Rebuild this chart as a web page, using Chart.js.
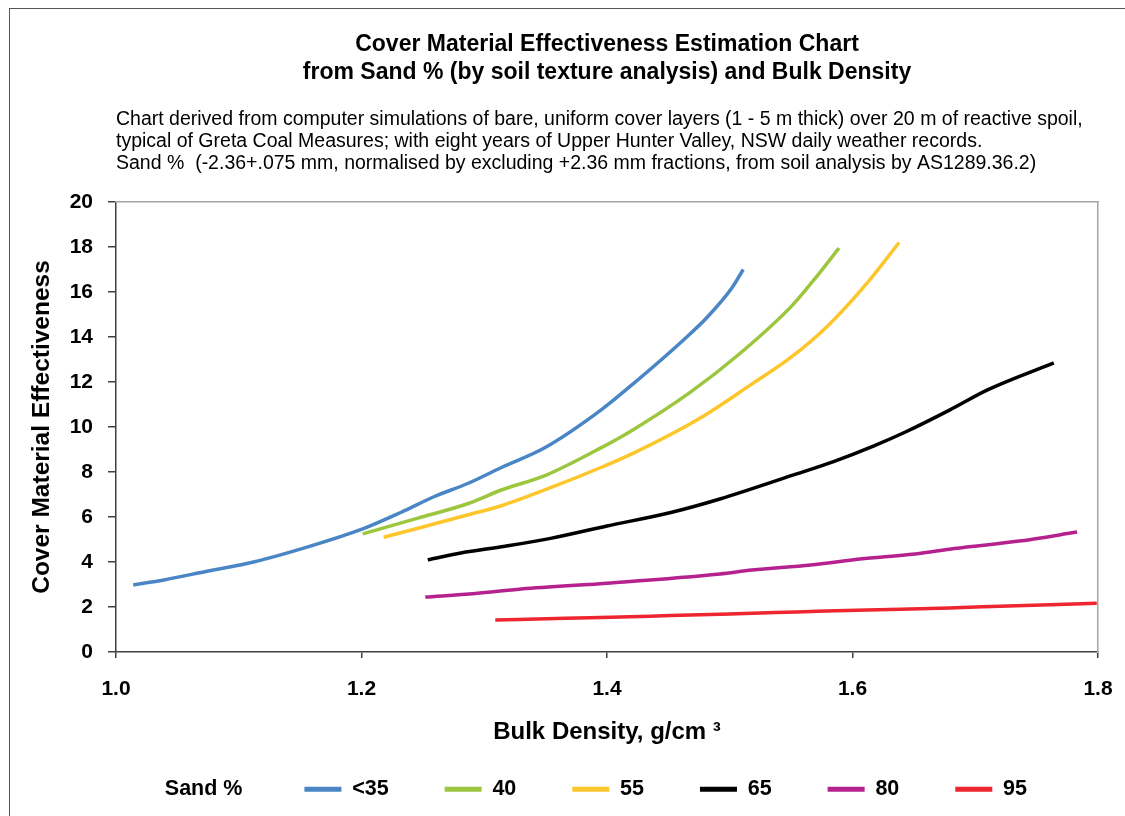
<!DOCTYPE html>
<html>
<head>
<meta charset="utf-8">
<script src="https://cdn.jsdelivr.net/npm/chart.js@4.4.1/dist/chart.umd.min.js"></script>
<style>
  body { margin: 0; background: #fff; }
  #wrap { position: relative; width: 1125px; height: 816px; }
  #frame { position: absolute; left: 9px; top: 8px; right: 0; bottom: 0;
           border-left: 1.5px solid #555; border-top: 1.5px solid #555; pointer-events: none; }
</style>
</head>
<body>
<div id="wrap">
  <canvas id="chart" width="1125" height="816"></canvas>
  <div id="frame"></div>
</div>
<script>
'use strict';

var sandLabels = ['<35', '40', '55', '65', '80', '95'];
var sandColors = ['#4a86c6', '#9dc63f', '#fdc62a', '#000000', '#b5228d', '#ec2530'];

// bulk density (g/cm3) and effectiveness
var bd35 = [1.014, 1.039, 1.075, 1.112, 1.161, 1.201, 1.232, 1.259, 1.287, 1.314, 1.350, 1.395, 1.422, 1.463, 1.482, 1.502, 1.511];
var ce35 = [2.98, 3.2, 3.6, 4.0, 4.75, 5.47, 6.2, 6.9, 7.5, 8.2, 9.1, 10.75, 11.95, 13.9, 14.9, 16.2, 17.0];

var bd40 = [1.201, 1.246, 1.287, 1.314, 1.350, 1.395, 1.421, 1.468, 1.509, 1.550, 1.568, 1.589];
var ce40 = [5.25, 5.95, 6.6, 7.2, 7.85, 9.07, 9.87, 11.55, 13.3, 15.35, 16.5, 17.95];

var bd55 = [1.218, 1.246, 1.287, 1.314, 1.354, 1.395, 1.422, 1.476, 1.517, 1.550, 1.580, 1.612, 1.638];
var ce55 = [5.1, 5.5, 6.1, 6.5, 7.3, 8.2, 8.85, 10.4, 11.87, 13.1, 14.5, 16.4, 18.2];

var bd65 = [1.254, 1.281, 1.317, 1.354, 1.400, 1.452, 1.492, 1.552, 1.584, 1.617, 1.644, 1.679, 1.710, 1.764];
var ce65 = [4.1, 4.4, 4.7, 5.05, 5.6, 6.2, 6.8, 7.87, 8.45, 9.15, 9.8, 10.75, 11.65, 12.85];

var bd80 = [1.252, 1.293, 1.330, 1.403, 1.492, 1.518, 1.566, 1.606, 1.651, 1.683, 1.736, 1.783];
var ce80 = [2.44, 2.6, 2.8, 3.07, 3.47, 3.64, 3.87, 4.13, 4.36, 4.6, 4.93, 5.33];

var bd95 = [1.309, 1.366, 1.411, 1.452, 1.492, 1.537, 1.578, 1.639, 1.679, 1.720, 1.761, 1.799];
var ce95 = [1.42, 1.5, 1.55, 1.62, 1.68, 1.75, 1.82, 1.9, 1.96, 2.03, 2.1, 2.17];

var xTickLabels = ['1.0', '1.2', '1.4', '1.6', '1.8'];
var yTickLabels = ['0', '2', '4', '6', '8', '10', '12', '14', '16', '18', '20'];

var titleLines = ['Cover Material Effectiveness Estimation Chart',
  'from Sand % (by soil texture analysis) and Bulk Density'];
var noteLines = [
  'Chart derived from computer simulations of bare, uniform cover layers (1 - 5 m thick) over 20 m of reactive spoil,',
  'typical of Greta Coal Measures; with eight years of Upper Hunter Valley, NSW daily weather records.',
  'Sand %  (-2.36+.075 mm, normalised by excluding +2.36 mm fractions, from soil analysis by AS1289.36.2)'
];

function toPoints(xs, ys) {
  var pts = [];
  for (var i = 0; i < xs.length; i++) {
    pts.push({ x: xs[i], y: ys[i] });
  }
  return pts;
}

var seriesX = [bd35, bd40, bd55, bd65, bd80, bd95];
var seriesY = [ce35, ce40, ce55, ce65, ce80, ce95];

// first entry only puts "Sand %" in front of the legend (trailing space widens the gap)
var datasets = [{ label: 'Sand % ', data: [], borderColor: 'rgba(0,0,0,0)', backgroundColor: 'rgba(0,0,0,0)' }];
for (var s = 0; s < sandLabels.length; s++) {
  datasets.push({
    label: sandLabels[s],
    data: toPoints(seriesX[s], seriesY[s]),
    borderColor: sandColors[s],
    backgroundColor: sandColors[s],
    borderWidth: 3.5,
    pointRadius: 0,
    cubicInterpolationMode: 'monotone'
  });
}

Chart.defaults.font.family = '"Liberation Sans", Arial, sans-serif';
Chart.defaults.color = '#000';

var axisColor = '#404040';

new Chart(document.getElementById('chart'), {
  type: 'line',
  data: { datasets: datasets },
  options: {
    responsive: false,
    animation: false,
    layout: { padding: { top: 10, left: 30, right: 11, bottom: 6 } },
    plugins: {
      title: {
        display: true,
        text: titleLines,
        fullSize: false,
        font: { size: 23, weight: 'bold', lineHeight: 1.217 },
        padding: { top: 21, bottom: 0 }
      },
      subtitle: {
        display: true,
        text: noteLines,
        fullSize: false,
        align: 'start',
        font: { size: 19.5, lineHeight: 1.128 },
        padding: { top: 22, bottom: 27 }
      },
      legend: {
        position: 'bottom',
        labels: {
          usePointStyle: true,
          pointStyleWidth: 37,
          padding: 56,
          font: { size: 21.5, weight: 'bold' },
          generateLabels: function (chart) {
            var items = Chart.defaults.plugins.legend.labels.generateLabels(chart);
            items.forEach(function (item, i) {
              item.pointStyle = 'line';
              item.lineWidth = i === 0 ? 0 : 5;
            });
            return items;
          }
        }
      },
      tooltip: { enabled: false }
    },
    scales: {
      x: {
        type: 'linear',
        min: 1.0,
        max: 1.8,
        afterBuildTicks: function (scale) {
          scale.ticks = xTickLabels.map(function (t) { return { value: parseFloat(t) }; });
        },
        afterFit: function (scale) { scale.height = 70.5; },
        ticks: {
          padding: 8,
          font: { size: 21, weight: 'bold', lineHeight: 2.2 },
          callback: function (v, i) { return xTickLabels[i]; }
        },
        grid: { drawOnChartArea: false, color: axisColor, tickLength: 6, lineWidth: 1.5 },
        border: { color: axisColor, width: 1.5 },
        title: {
          display: true,
          text: 'Bulk Density, g/cm \u00b3',
          font: { size: 24, weight: 'bold' },
          padding: { top: 0, bottom: -24 }
        }
      },
      y: {
        min: 0,
        max: 20,
        afterBuildTicks: function (scale) {
          scale.ticks = yTickLabels.map(function (t) { return { value: parseFloat(t) }; });
        },
        afterFit: function (scale) { scale.width = 86; },
        ticks: {
          padding: 15,
          font: { size: 21, weight: 'bold' },
          callback: function (v, i) { return yTickLabels[i]; }
        },
        grid: { drawOnChartArea: false, color: axisColor, tickLength: 8, lineWidth: 1.5 },
        border: { color: axisColor, width: 1.5 },
        title: {
          display: true,
          text: 'Cover Material Effectiveness',
          font: { size: 24.5, weight: 'bold' },
          padding: { top: -2.7, bottom: 0 }
        }
      },
      xTop: {
        type: 'linear',
        position: 'top',
        min: 0,
        max: 1,
        ticks: { display: false },
        grid: { display: false, drawTicks: false },
        border: { color: '#a6a6a6', width: 1.5 }
      },
      yRight: {
        type: 'linear',
        position: 'right',
        min: 0,
        max: 1,
        afterFit: function (scale) { scale.width = 16; },
        ticks: { display: false },
        grid: { display: false, drawTicks: false },
        border: { color: '#a6a6a6', width: 1.5 }
      }
    }
  }
});
</script>
</body>
</html>
